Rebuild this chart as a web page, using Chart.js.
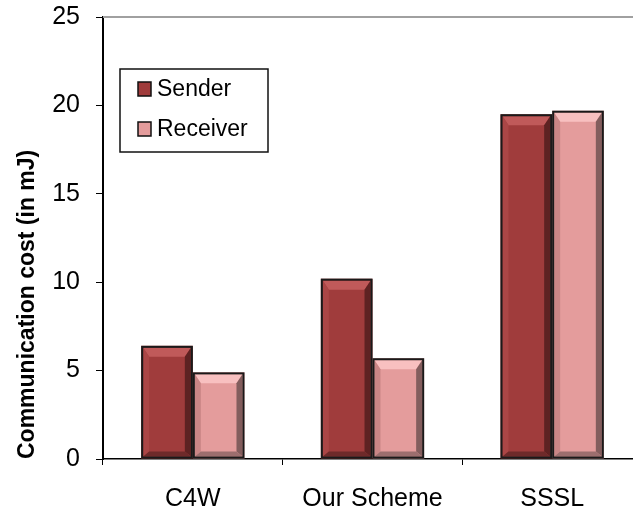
<!DOCTYPE html>
<html>
<head>
<meta charset="utf-8">
<script src="https://cdn.jsdelivr.net/npm/chart.js@4"></script>
<style>
  html, body { margin: 0; padding: 0; background: #fff; overflow: hidden; }
  #wrap { position: relative; width: 660px; height: 513px; }
</style>
</head>
<body>
<div id="wrap"><canvas id="costChart"></canvas></div>
<script>
// Communication cost per scheme
const categories = ["C4W", "Our Scheme", "SSSL"];
const senderCost = [6.4, 10.2, 19.5];
const receiverCost = [4.9, 5.7, 19.7];
const yTicks = [0, 5, 10, 15, 20, 25];

const FONT = "'Liberation Sans', Arial, sans-serif";

// bevel colours: [face, top, left, right, bottom]
const bevels = [
  ["#a03c3c", "#c05a5a", "#ab4646", "#5e2222", "#6e2a2a"],
  ["#e49c9c", "#f8c0c0", "#c98686", "#835d5d", "#9c6e6e"]
];

// plot frame top line
const frameLine = {
  id: "frameLine",
  beforeDatasetsDraw(chart) {
    const { ctx, chartArea } = chart;
    ctx.save();
    ctx.strokeStyle = "#a0a0a0";
    ctx.lineWidth = 2;
    ctx.beginPath();
    ctx.moveTo(chartArea.left, chartArea.top);
    ctx.lineTo(chartArea.right + 20, chartArea.top);
    ctx.stroke();
    ctx.restore();
  }
};

// 3D bevel look on each bar
const bevelBars = {
  id: "bevelBars",
  afterDatasetsDraw(chart) {
    const ctx = chart.ctx;
    chart.data.datasets.forEach((ds, i) => {
      const c = bevels[i];
      chart.getDatasetMeta(i).data.forEach((bar) => {
        const b = 2;
        const l = bar.x - bar.width / 2 + b, r = bar.x + bar.width / 2 - b;
        const t = bar.y + b, btm = bar.base - b;
        const s = 6, tb = 9, bb = 5;
        const poly = (pts, col) => {
          ctx.fillStyle = col;
          ctx.beginPath();
          ctx.moveTo(pts[0][0], pts[0][1]);
          pts.slice(1).forEach(p => ctx.lineTo(p[0], p[1]));
          ctx.closePath();
          ctx.fill();
        };
        ctx.save();
        poly([[l, t], [r, t], [r - s, t + tb], [l + s, t + tb]], c[1]);
        poly([[l, t], [l + s, t + tb], [l + s, btm - bb], [l, btm]], c[2]);
        poly([[r, t], [r, btm], [r - s, btm - bb], [r - s, t + tb]], c[3]);
        poly([[l, btm], [l + s, btm - bb], [r - s, btm - bb], [r, btm]], c[4]);
        ctx.strokeStyle = "#1a1a1a";
        ctx.lineWidth = 2;
        ctx.strokeRect(l - 1, t - 1, r - l + 2, btm - t + 2);
        ctx.restore();
      });
    });
  }
};

// legend box inside the plot
const innerLegend = {
  id: "innerLegend",
  afterDraw(chart) {
    const { ctx, chartArea } = chart;
    const x = chartArea.left + 17, y = chartArea.top + 52;
    ctx.save();
    ctx.fillStyle = "#fff";
    ctx.fillRect(x, y, 148, 83);
    ctx.strokeStyle = "#111";
    ctx.lineWidth = 1.5;
    ctx.strokeRect(x, y, 148, 83);
    chart.data.datasets.forEach((ds, i) => {
      const sy = y + 13 + i * 40;
      ctx.fillStyle = bevels[i][0];
      ctx.fillRect(x + 18, sy, 13, 14);
      ctx.strokeStyle = "#111";
      ctx.lineWidth = 1.5;
      ctx.strokeRect(x + 18, sy, 13, 14);
      ctx.fillStyle = "#000";
      ctx.font = "23px " + FONT;
      ctx.textBaseline = "middle";
      ctx.fillText(ds.label, x + 37, sy + 8);
    });
    ctx.restore();
  }
};

new Chart(document.getElementById("costChart"), {
  type: "bar",
  data: {
    labels: categories,
    datasets: [
      { label: "Sender", data: senderCost, backgroundColor: bevels[0][0], borderColor: "#1a1a1a", borderWidth: 0 },
      { label: "Receiver", data: receiverCost, backgroundColor: bevels[1][0], borderColor: "#1a1a1a", borderWidth: 0 }
    ]
  },
  options: {
    responsive: true,
    maintainAspectRatio: false,
    animation: false,
    layout: { padding: { top: 17, right: 18, left: 0, bottom: 0 } },
    plugins: { legend: { display: false }, tooltip: { enabled: false } },
    datasets: { bar: { categoryPercentage: 0.575, barPercentage: 1 } },
    scales: {
      x: {
        afterFit: (s) => { s.height = 54; s.paddingLeft = 0; s.paddingRight = 0; },
        border: { color: "#000", width: 1.5 },
        grid: { drawOnChartArea: false, color: "#000", tickLength: 6, offset: true },
        ticks: { color: "#000", padding: 19, font: { family: FONT, size: 25 } }
      },
      y: {
        min: 0,
        max: 25,
        afterFit: (s) => { s.width = 103; s.paddingTop = 0; s.paddingBottom = 0; },
        afterBuildTicks: (s) => { s.ticks = yTicks.map(v => ({ value: v })); },
        border: { color: "#000", width: 2 },
        grid: { drawOnChartArea: false, color: "#000", tickLength: 7 },
        ticks: { color: "#000", padding: 16, font: { family: FONT, size: 25 } },
        title: {
          display: true,
          text: "Communication cost (in mJ)",
          color: "#000",
          align: "start",
          padding: { top: 14, bottom: 0 },
          font: { family: FONT, size: 23, weight: "bold" }
        }
      }
    }
  },
  plugins: [frameLine, bevelBars, innerLegend]
});
</script>
</body>
</html>
